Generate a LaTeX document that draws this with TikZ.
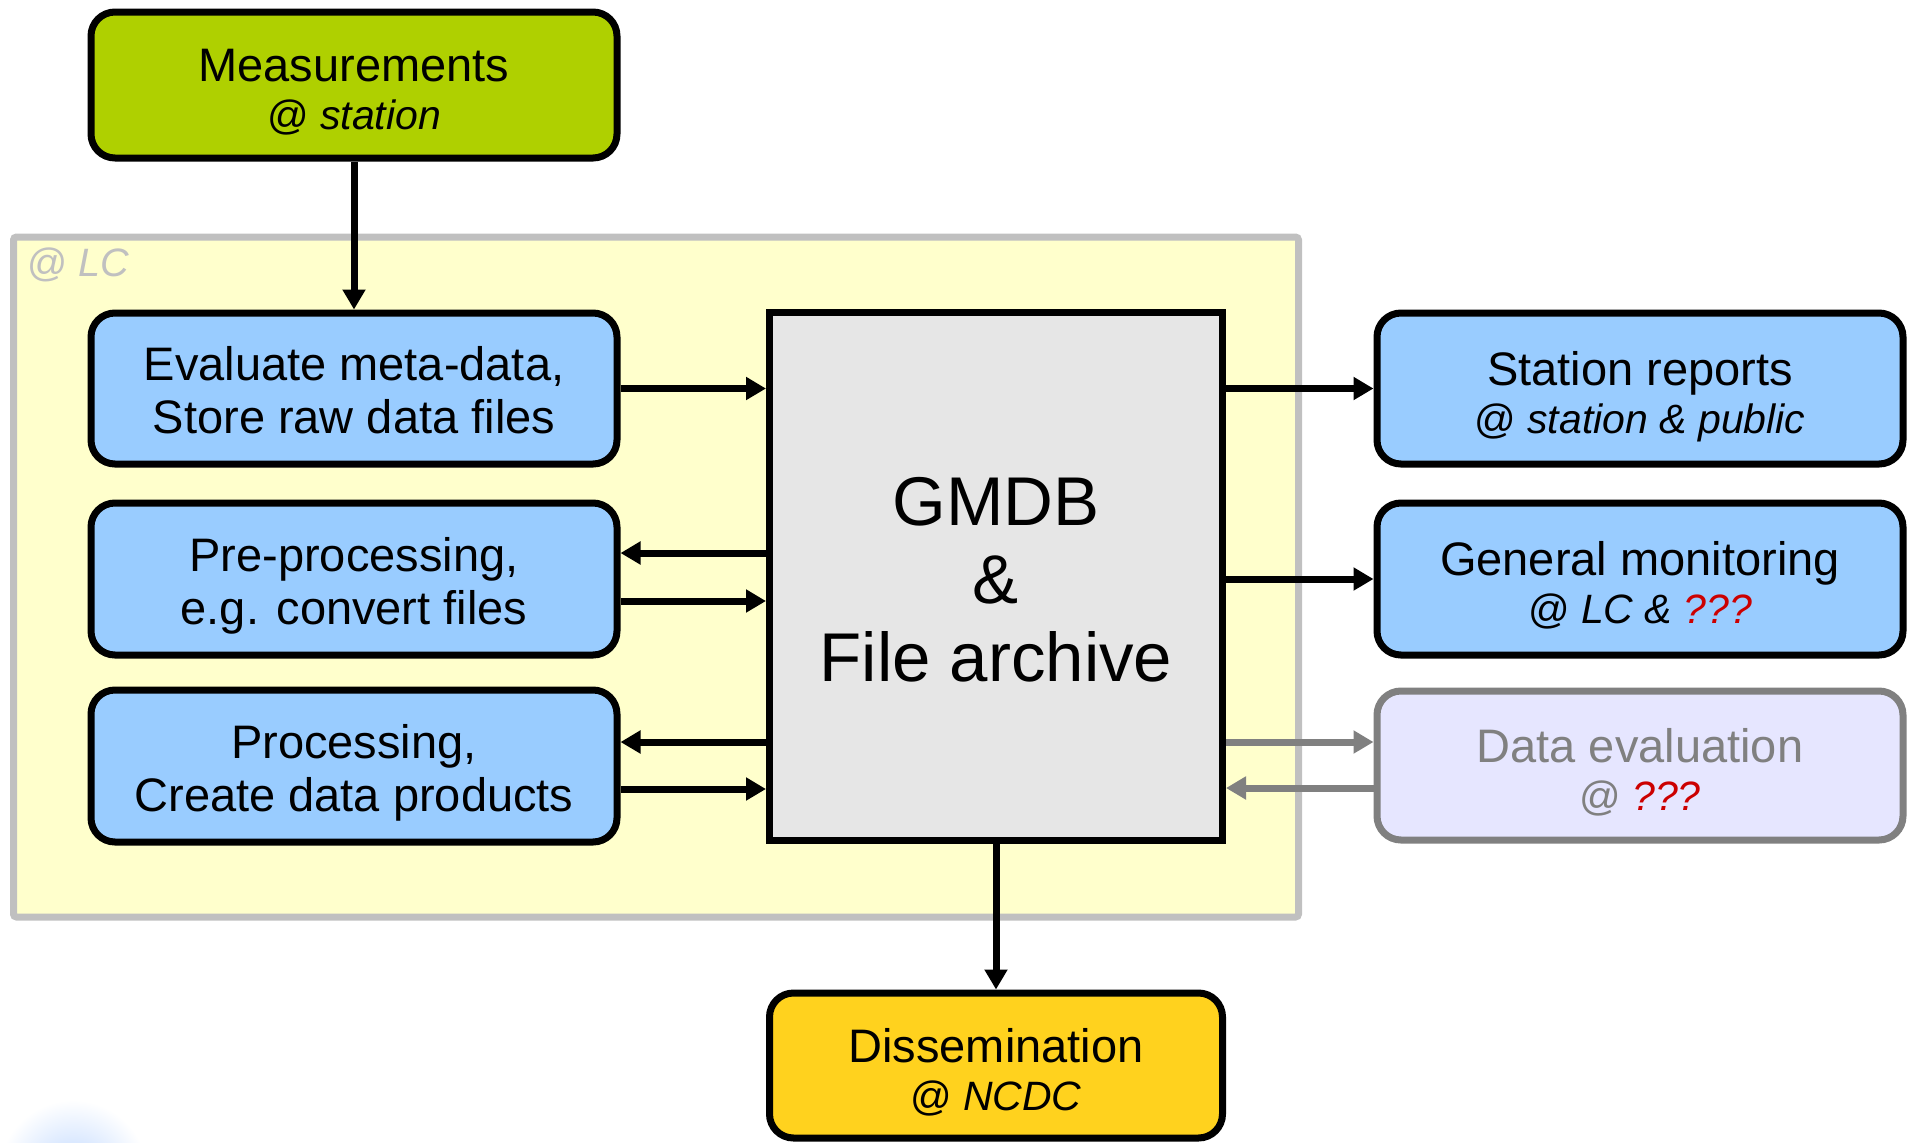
\documentclass[tikz,border=0pt]{standalone}
\usepackage{fontspec}
\setmainfont{Liberation Sans}
\usetikzlibrary{arrows.meta}
\definecolor{measgreen}{RGB}{175,208,0}
\definecolor{boxblue}{RGB}{153,204,255}
\definecolor{lcyellow}{RGB}{255,255,204}
\definecolor{lcgray}{RGB}{192,192,192}
\definecolor{gmdbgray}{RGB}{230,230,230}
\definecolor{dissyellow}{RGB}{255,210,30}
\definecolor{evalfill}{RGB}{230,230,255}
\definecolor{evalgray}{RGB}{128,128,128}
\definecolor{qred}{RGB}{204,0,0}
\definecolor{blobblue}{RGB}{190,215,255}
% first line of same-size boxes / of two-size boxes, last line with no depth
\newcommand\firstA{\rule{0pt}{18.5pt}}
\newcommand\firstB{\rule{0pt}{20.5pt}}
\newcommand\lastline[1]{\raisebox{0pt}[\height][0pt]{#1}}
\newcommand\subline[1]{\lastline{\fontsize{20.5}{24}\selectfont #1}}
\tikzset{
  boxbase/.style={draw, line width=3.5pt, rounded corners=12pt, align=center,
    inner sep=0pt, font=\fontsize{23.5}{24}\selectfont},
  samebox/.style={boxbase, font=\fontsize{23.5}{26.5}\selectfont},
  leftbox/.style={samebox, fill=boxblue, minimum width=263pt, minimum height=76pt},
  rightbox/.style={boxbase, fill=boxblue, minimum width=263pt, minimum height=76pt},
  conn/.style={line width=3.5pt, -{Triangle[length=10pt,width=11pt]}},
  grayconn/.style={conn, draw=evalgray, color=evalgray},
}
\begin{document}
\begin{tikzpicture}[x=0.5pt,y=-0.5pt]
\useasboundingbox (0,0) rectangle (1913,1142);
% faint blob bottom-left
\shade[inner color=blobblue, outer color=white] (73,1175) circle (75);
% LC area
\node[draw=lcgray, fill=lcyellow, line width=3.5pt, rounded corners=1.5pt,
  minimum width=642.5pt, minimum height=340pt, inner sep=0pt] (lc) at (656,577) {};
\node[anchor=base west, inner sep=0pt, text=lcgray, font=\fontsize{19.8}{24}\selectfont] (lclabel) at (27,276.5) {@ \textit{LC}};
% boxes
\node[boxbase, fill=measgreen, minimum width=263pt, minimum height=73pt] (meas) at (354,85) {\firstB Measurements\\\subline{@ \textit{station}}};
\node[leftbox, minimum height=75.5pt] (eval) at (354,388.5) {\firstA Evaluate meta-data,\\\lastline{Store raw data files}};
\node[leftbox] (pre) at (354,579) {\firstA Pre-processing,\\\lastline{e.g. convert files}};
\node[leftbox] (proc) at (354,766) {\firstA Processing,\\\lastline{Create data products}};
\node[draw, line width=3.5pt, fill=gmdbgray, align=center, inner sep=0pt,
  minimum width=226.5pt, minimum height=264pt,
  font=\fontsize{34.5}{39}\selectfont] (gmdb) at (996,576) {\rule{0pt}{27.2pt}GMDB\\\&\\\lastline{File archive}};
\node[boxbase, fill=dissyellow, minimum width=226.5pt, minimum height=72.5pt] (diss) at (996,1065.5) {\firstB Dissemination\\\subline{@ \textit{NCDC}}};
\node[rightbox, minimum height=75.5pt] (stat) at (1640,388.5) {\firstB Station reports\\\subline{@ \textit{station \& public}}};
\node[rightbox] (gen) at (1640,579) {\firstB General monitoring\\\subline{@ \textit{LC \& \textcolor{qred}{???}}}};
\node[boxbase, fill=evalfill, draw=evalgray, text=evalgray, minimum width=263pt, minimum height=74.5pt] (deval) at (1640,765.5) {\firstB Data evaluation\\\subline{@ \textit{\textcolor{qred}{???}}}};
% connectors
\draw[conn] (meas.south) -- (eval.north);
\draw[conn] (eval.east) -- (eval.east -| gmdb.west);
\draw[conn] ([yshift=13pt]pre.east -| gmdb.west) -- ([yshift=13pt]pre.east);
\draw[conn] ([yshift=-11pt]pre.east) -- ([yshift=-11pt]pre.east -| gmdb.west);
\draw[conn] ([yshift=12pt]proc.east -| gmdb.west) -- ([yshift=12pt]proc.east);
\draw[conn] ([yshift=-11.5pt]proc.east) -- ([yshift=-11.5pt]proc.east -| gmdb.west);
\draw[conn] (stat.west -| gmdb.east) -- (stat.west);
\draw[conn] (gen.west -| gmdb.east) -- (gen.west);
\draw[grayconn] ([yshift=11.75pt]deval.west -| gmdb.east) -- ([yshift=11.75pt]deval.west);
\draw[grayconn] ([yshift=-11.25pt]deval.west) -- ([yshift=-11.25pt]deval.west -| gmdb.east);
\draw[conn] (gmdb.south) -- (diss.north);
\end{tikzpicture}
\end{document}
